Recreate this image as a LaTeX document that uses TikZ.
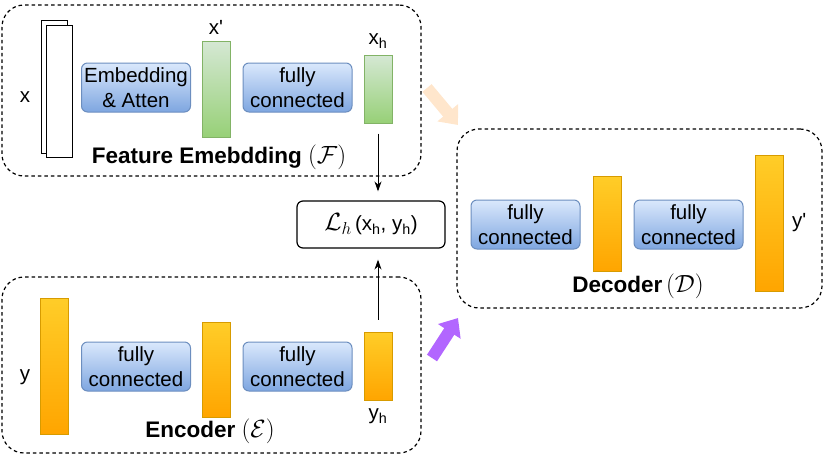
\documentclass[tikz,border=0pt]{standalone}
\usepackage{fontspec}
\setmainfont{Liberation Sans}
\usepackage{amsmath,amssymb}
\usetikzlibrary{positioning,arrows.meta,calc}
\definecolor{fcTop}{HTML}{DAE8FC}
\definecolor{fcBot}{HTML}{7EA6E0}
\definecolor{fcLine}{HTML}{6C8EBF}
\definecolor{grTop}{HTML}{D5E8D4}
\definecolor{grBot}{HTML}{97D077}
\definecolor{grLine}{HTML}{82B366}
\definecolor{orTop}{HTML}{FFCD28}
\definecolor{orBot}{HTML}{FFA500}
\definecolor{orLine}{HTML}{D79B00}
\definecolor{peach}{HTML}{FFE6CC}
\definecolor{violet}{HTML}{B266FF}
\newcommand{\fsnorm}{\fontsize{20.5}{24.5}\selectfont}
\newcommand{\fstitle}{\fontsize{22.5}{26}\selectfont\bfseries}
\newcommand{\bigmath}[1]{{\fontsize{27}{30}\selectfont$#1$}}

\begin{document}
\begin{tikzpicture}[x=1pt,y=-1pt,line width=1pt,
    fcbox/.style={draw=fcLine,rounded corners=6pt,top color=fcTop,bottom color=fcBot,
      minimum width=109pt,minimum height=49pt,inner sep=0pt,align=center,font=\fsnorm},
    grbar/.style={draw=grLine,top color=grTop,bottom color=grBot,minimum width=28pt,inner sep=0pt},
    orbar/.style={draw=orLine,top color=orTop,bottom color=orBot,minimum width=28pt,inner sep=0pt},
    page/.style={draw=black,fill=white,minimum width=26pt,inner sep=0pt},
    groupbox/.style={draw=black,dash pattern=on 3.5pt off 3pt,line width=1.2pt,rounded corners=22pt,inner sep=0pt},
    lbl/.style={font=\fsnorm,inner sep=0pt},
    title/.style={font=\fstitle,inner sep=0pt},
    ]
\useasboundingbox (0,0) rectangle (830,456);

% group frames
\node[groupbox,minimum width=419pt,minimum height=171pt] (feat) at (211.5,90.5) {};
\node[groupbox,minimum width=419pt,minimum height=176pt] (enc) at (211.5,365) {};
\node[groupbox,minimum width=365pt,minimum height=179pt] (dec) at (639.5,218.5) {};

% feature embedding
\node[page,minimum height=133pt] (xback) at (54,86.5) {};
\node[page,minimum height=132pt] (xfront) at (59,91) {};
\node[lbl] (xlbl) at (25,97) {x};
\node[fcbox] (embed) at (136,87.5) {Embedding\\\& Atten};
\node[grbar,minimum height=96pt] (xp) at (216,89) {};
\node[lbl,above=6pt of xp] (xplbl) {x\textquotesingle};
\node[fcbox] (fcf) at (297.5,87.5) {fully\\connected};
\node[grbar,minimum height=68pt] (xh) at (378,89) {};
\node[lbl,above=6pt of xh] (xhlbl) {x\textsubscript{h}};
\node[title] (ftitle) at (219,157) {Feature Emebdding \bigmath{(\mathcal{F})}};

% encoder
\node[orbar,minimum height=136pt] (y) at (54.5,366) {};
\node[lbl] (ylbl) at (25,377) {y};
\node[fcbox] (fce1) at (136,366.5) {fully\\connected};
\node[orbar,minimum height=95pt] (ymid) at (216,369.5) {};
\node[fcbox] (fce2) at (297.5,366.5) {fully\\connected};
\node[orbar,minimum height=68pt] (yh) at (378,366) {};
\node[lbl,below=8pt of yh] (yhlbl) {y\textsubscript{h}};
\node[title] (etitle) at (210,431) {Encoder \bigmath{(\mathcal{E})}};

% decoder
\node[fcbox] (fcd1) at (525.5,224.5) {fully\\connected};
\node[orbar,minimum height=95pt] (yd) at (607,223.5) {};
\node[fcbox] (fcd2) at (688.5,224.5) {fully\\connected};
\node[orbar,minimum height=136pt] (yp) at (769,223) {};
\node[lbl,right=8pt of yp] (yplbl) {y\textquotesingle};
\node[title] (dtitle) at (638,286) {Decoder\,\bigmath{(\mathcal{D})}};

% loss
\node[draw=black,line width=1.2pt,rounded corners=6pt,minimum width=148pt,minimum height=47pt,font=\fsnorm] (loss) at (371,224.5)
  {\bigmath{\mathcal{L}_h}\,(x\textsubscript{h}, y\textsubscript{h})};
\draw[-{Stealth[length=10pt,width=7pt]},shorten <=10pt,shorten >=9pt] (xh.south) -- (xh.south |- loss.north);
\draw[-{Stealth[length=10pt,width=7pt]},shorten <=12pt,shorten >=11pt] (yh.north) -- (yh.north |- loss.south);

% block arrows into the decoder
\coordinate (ptail) at (427,88);
\coordinate (ptip) at (458,125);
\coordinate (vtail) at (432,358);
\coordinate (vtip) at (458,318);
\draw[peach,line width=12pt,-{Triangle[length=16pt,width=26pt]}] (ptail) -- (ptip);
\draw[violet,line width=12pt,-{Triangle[length=16pt,width=26pt]}] (vtail) -- (vtip);
\end{tikzpicture}
\end{document}
